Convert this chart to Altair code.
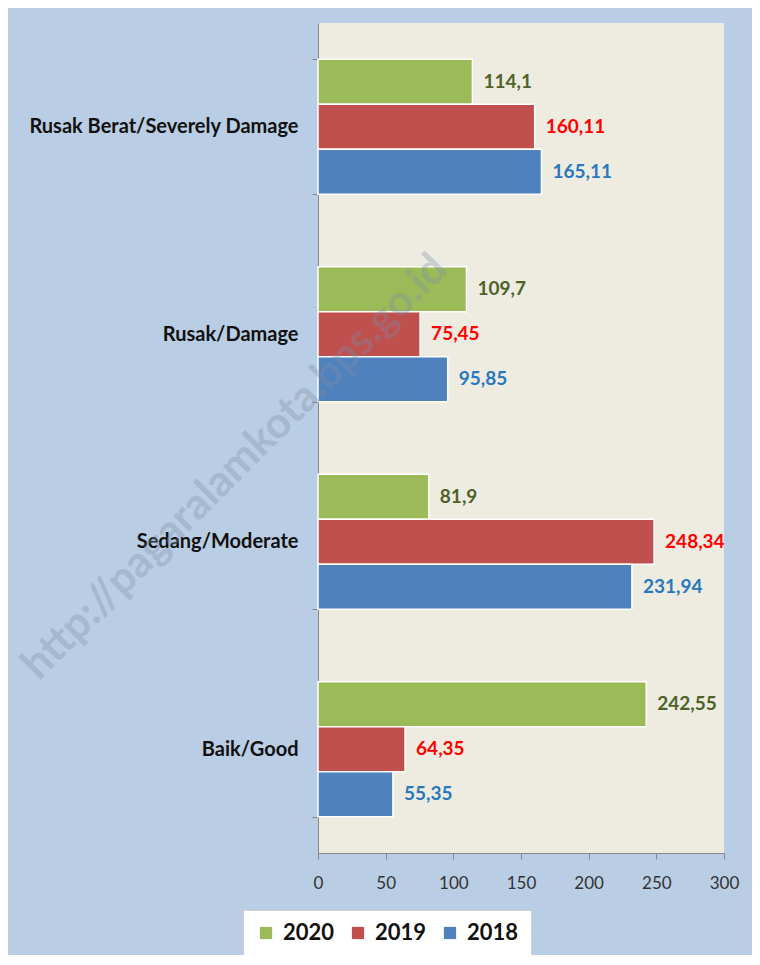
import altair as alt
import pandas as pd

categories = ["Rusak Berat/Severely Damage", "Rusak/Damage", "Sedang/Moderate", "Baik/Good"]
years = ["2020", "2019", "2018"]
values_2020 = [114.1, 109.7, 81.9, 242.55]
values_2019 = [160.11, 75.45, 248.34, 64.35]
values_2018 = [165.11, 95.85, 231.94, 55.35]
x_ticks = [0, 50, 100, 150, 200, 250, 300]
bar_colors = ["#9bbb59", "#c0504d", "#4f81bd"]
label_colors = ["#4f6228", "#ff0000", "#2878be"]
watermark = "http://pagaralamkota.bps.go.id"

rows = []
for yr, vals, lc in zip(years, [values_2020, values_2019, values_2018], label_colors):
    for cat, v in zip(categories, vals):
        rows.append({"category": cat, "year": yr, "value": v,
                     "label": str(v).replace(".", ","), "lcolor": lc})
df = pd.DataFrame(rows)

base = alt.Chart(df).encode(
    y=alt.Y("category:N", sort=categories,
            scale=alt.Scale(paddingInner=0.35, paddingOuter=0.175),
            axis=alt.Axis(title=None, labelFont="Lato", labelFontWeight="bold",
                          labelFontSize=20, labelColor="#111111", tickBand="extent",
                          tickSize=6, tickColor="#868686", domainColor="#868686",
                          labelPadding=14, labelLimit=0)),
    yOffset=alt.YOffset("year:N", sort=years),
)

bars = base.mark_bar(stroke="white", strokeWidth=1.5).encode(
    x=alt.X("value:Q", scale=alt.Scale(domain=[0, 300], nice=False),
            axis=alt.Axis(title=None, values=x_ticks, grid=False, tickSize=6,
                          tickColor="#868686", domainColor="#868686",
                          labelFont="Lato", labelFontSize=17, labelColor="#333333",
                          labelPadding=16, labelFlush=False)),
    color=alt.Color("year:N", sort=years,
                    scale=alt.Scale(domain=years, range=bar_colors),
                    legend=alt.Legend(title=None, orient="none", legendX=-75, legendY=887,
                                      direction="horizontal", fillColor="white",
                                      strokeColor="#d0d0d0", padding=12,
                                      symbolType="square", symbolSize=150,
                                      symbolStrokeWidth=0, labelFont="Lato",
                                      labelFontSize=22, labelFontWeight="bold",
                                      labelColor="#111111", columnPadding=12,
                                      labelOffset=6)),
)

labels = base.mark_text(align="left", baseline="middle", dx=11, font="Lato",
                        fontSize=19, fontWeight="bold").encode(
    x=alt.X("value:Q"),
    text="label:N",
    color=alt.Color("lcolor:N", scale=None),
)

wm = alt.Chart(pd.DataFrame({"t": [watermark]})).mark_text(
    align="right", baseline="middle", angle=315, font="Lato", fontSize=43,
    fontWeight="bold", color="#7d8fa8", opacity=0.33
).encode(text="t:N", x=alt.value(122), y=alt.value(239))

chart = alt.layer(bars, labels, wm).resolve_scale(color="independent").properties(
    width=406, height=830,
    autosize=alt.AutoSizeParams(type="none"),
    padding={"left": 310, "top": 15, "right": 28, "bottom": 102},
    background="#b9cde5",
).configure_view(fill="#eeece1", stroke=None)

chart.save("out.html", embed_options={"renderer": "svg", "actions": False})
